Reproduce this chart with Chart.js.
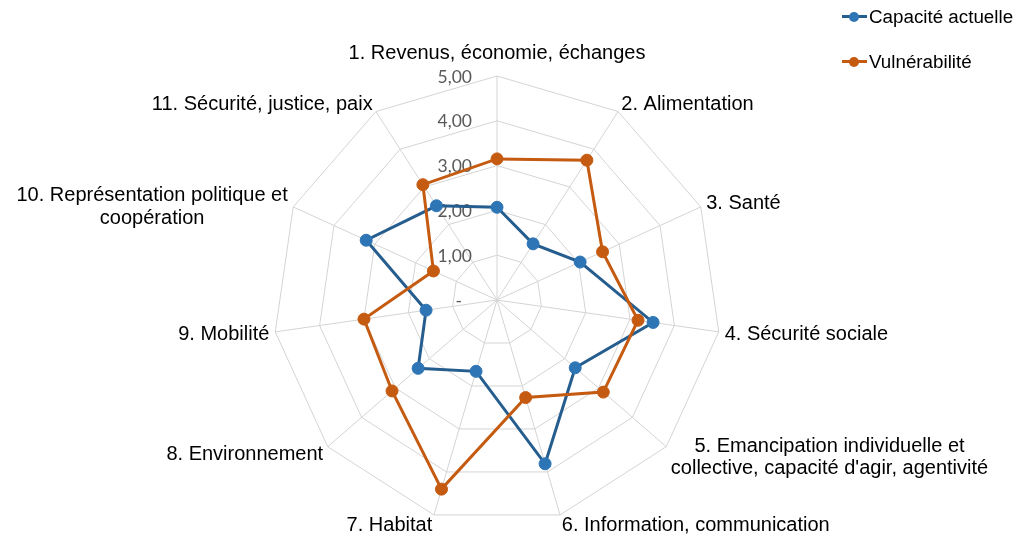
<!DOCTYPE html>
<html lang="fr">
<head>
<meta charset="utf-8">
<title>Capacité actuelle et vulnérabilité</title>
<script src="https://cdn.jsdelivr.net/npm/chart.js@4.4.1/dist/chart.umd.min.js"></script>
<style>
    html, body { margin: 0; padding: 0; background: #fff; }
    #wrap { position: relative; width: 1024px; height: 544px; overflow: hidden; }
    #legend { position: absolute; left: 842px; top: 0; font-family: "Liberation Sans", Arial, sans-serif; font-size: 18.8px; color: #000; }
    .item { position: absolute; left: 0; display: flex; align-items: center; height: 24px; white-space: nowrap; }
    .swatch { position: relative; width: 25px; height: 24px; margin-right: 2px; }
    .swatch .ln { position: absolute; left: 0; right: 0; top: 10.5px; height: 3px; }
    .swatch .dot { position: absolute; left: 7px; top: 7px; width: 10px; height: 10px; border-radius: 50%; }
</style>
</head>
<body>
<div id="wrap">
    <canvas id="radarChart" width="1024" height="544"></canvas>
    <div id="legend"></div>
</div>
<script>
// Categories (axes of the radar)
const categories = [
    '1. Revenus, économie, échanges',
    '2. Alimentation',
    '3. Santé',
    '4. Sécurité sociale',
    ['5. Emancipation individuelle et', "collective, capacité d'agir, agentivité"],
    '6. Information, communication',
    '7. Habitat',
    '8. Environnement',
    '9. Mobilité',
    ['10. Représentation politique et', 'coopération'],
    '11. Sécurité, justice, paix'
];

// Series values
const seriesNames = ['Capacité actuelle', 'Vulnérabilité'];
const capaciteActuelle = [2.07, 1.49, 2.04, 3.52, 2.31, 3.81, 1.66, 2.33, 1.60, 3.21, 2.50];
const vulnerabilite = [3.15, 3.71, 2.59, 3.18, 3.14, 2.27, 4.40, 3.10, 3.00, 1.56, 3.06];

// Radial axis ticks
const tickValues = [0, 1, 2, 3, 4, 5];
const tickLabels = ['-', '1,00', '2,00', '3,00', '4,00', '5,00'];

const lineColors = ['#265D8F', '#C55A11'];
const markerColors = ['#2E75B6', '#C55A11'];

// Draws tick labels (under the series) and the category labels, Excel style
const radarText = {
    id: 'radarText',
    beforeDatasetsDraw(chart) {
        const scale = chart.scales.r;
        const ctx = chart.ctx;
        ctx.save();
        ctx.font = '17.5px Lato, "Open Sans", sans-serif';
        ctx.fillStyle = '#595959';
        ctx.textAlign = 'right';
        ctx.textBaseline = 'middle';
        tickValues.forEach((v, i) => {
            const y = scale.yCenter - scale.getDistanceFromCenterForValue(v);
            let x = scale.xCenter - 25;
            if (tickLabels[i] === '-') x -= 10;
            ctx.fillText(tickLabels[i], x, y + 1);
        });
        ctx.restore();
    },
    afterDraw(chart) {
        const scale = chart.scales.r;
        const ctx = chart.ctx;
        const lineH = 22.5;
        ctx.save();
        ctx.font = '20px "Liberation Sans", Arial, sans-serif';
        ctx.fillStyle = '#000';
        ctx.textAlign = 'center';
        ctx.textBaseline = 'middle';
        categories.forEach((label, i) => {
            const lines = Array.isArray(label) ? label : [label];
            const pos = scale.getPointPosition(i, scale.drawingArea + 6);
            const ang = scale.getIndexAngle(i);
            const deg = Math.round(ang * 180 / Math.PI);
            const w = Math.max(...lines.map(l => ctx.measureText(l).width));
            let cx = pos.x;
            if (deg > 0 && deg < 180) cx = pos.x + w / 2;
            else if (deg > 180) cx = pos.x - w / 2;
            // labels sit roughly centred on the axis end, the top one above it
            let cy = deg === 0 ? pos.y - 17 : pos.y - Math.cos(ang) * 4 + 1;
            if (lines.length > 1) cy += 3;
            const top = cy - (lines.length - 1) * lineH / 2;
            lines.forEach((l, k) => ctx.fillText(l, cx, top + k * lineH));
        });
        ctx.restore();
    }
};

function buildLegend() {
    const legend = document.getElementById('legend');
    seriesNames.forEach((name, i) => {
        const item = document.createElement('div');
        item.className = 'item';
        item.style.top = (4.7 + i * 45) + 'px';
        item.innerHTML = '<span class="swatch"><span class="ln" style="background:' + lineColors[i] +
            '"></span><span class="dot" style="background:' + markerColors[i] + '"></span></span>' +
            '<span>' + name + '</span>';
        legend.appendChild(item);
    });
}

function initializeRadarChart() {
    const ctx = document.getElementById('radarChart').getContext('2d');
    const values = [capaciteActuelle, vulnerabilite];

    window.radarChart = new Chart(ctx, {
        type: 'radar',
        data: {
            labels: categories,
            datasets: values.map((data, i) => ({
                label: seriesNames[i],
                data: data,
                borderColor: lineColors[i],
                backgroundColor: markerColors[i],
                pointBackgroundColor: markerColors[i],
                pointBorderColor: markerColors[i],
                pointRadius: 6,
                pointBorderWidth: 1,
                borderWidth: 3,
                fill: false,
                tension: 0,
                order: 1 - i
            }))
        },
        options: {
            responsive: false,
            animation: false,
            layout: {
                padding: { left: 197, right: 227, top: 76, bottom: 20 }
            },
            scales: {
                r: {
                    min: 0,
                    max: 5,
                    ticks: { stepSize: 1, display: false },
                    pointLabels: { display: false },
                    grid: { color: '#D4D4D4', lineWidth: 1 },
                    angleLines: { color: '#D4D4D4', lineWidth: 1 }
                }
            },
            plugins: {
                legend: { display: false },
                tooltip: { enabled: false }
            }
        },
        plugins: [radarText]
    });
}

document.addEventListener('DOMContentLoaded', () => {
    buildLegend();
    initializeRadarChart();
});
</script>
</body>
</html>
